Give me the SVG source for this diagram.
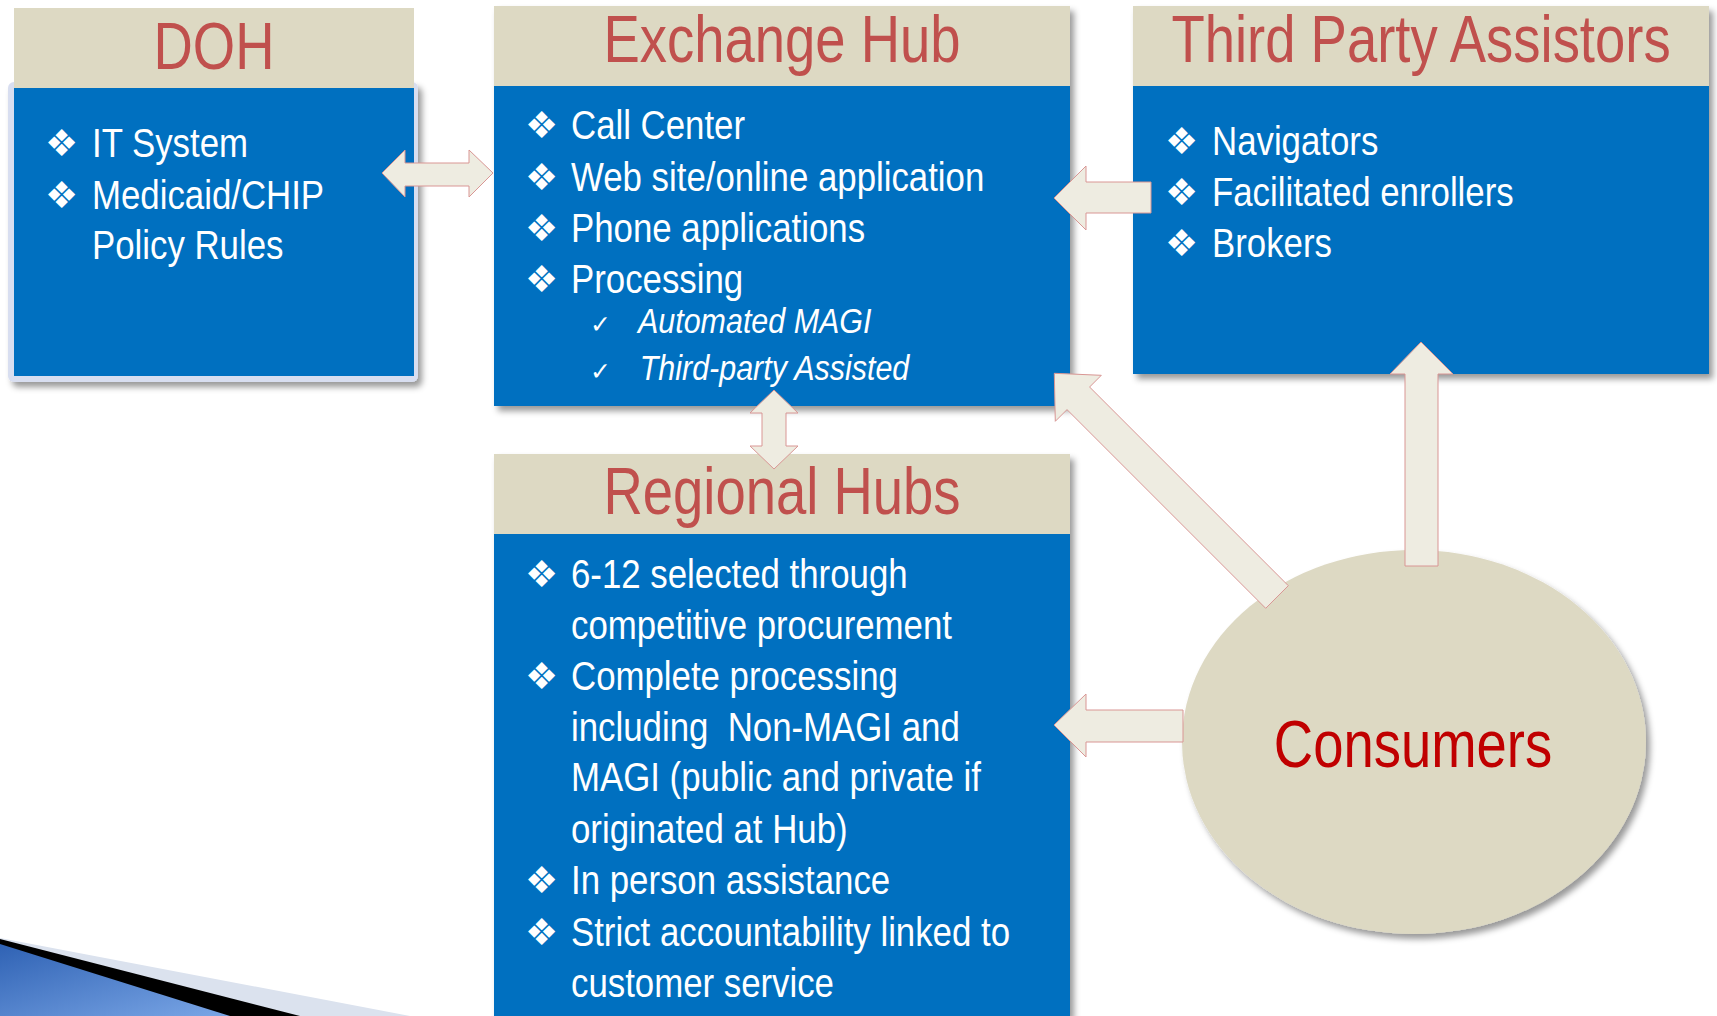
<svg xmlns="http://www.w3.org/2000/svg" width="1717" height="1016" viewBox="0 0 1717 1016">
<defs>
<filter id="sh" x="-10%" y="-10%" width="125%" height="125%">
<feDropShadow dx="4" dy="5" stdDeviation="3" flood-color="#000" flood-opacity="0.4"/>
</filter>
<linearGradient id="sw" x1="0" y1="0" x2="1" y2="1">
<stop offset="0" stop-color="#2f62b4"/>
<stop offset="1" stop-color="#7aa6e6"/>
</linearGradient>
<style>
.hdr{fill:#DDD9C3}
.body{fill:#0070C0}
.ttl{font-family:"Liberation Sans Narrow","Liberation Sans",Arial,sans-serif;font-size:66px;fill:#C0504D;text-anchor:middle}
.txt{font-family:"Liberation Sans Narrow","Liberation Sans",Arial,sans-serif;font-size:40px;fill:#fff}
.it{font-family:"Liberation Sans Narrow","Liberation Sans",Arial,sans-serif;font-size:35px;fill:#fff;font-style:italic}
.bul{font-family:"DejaVu Sans",sans-serif;font-size:37px;fill:#fff}
.chk{font-family:"DejaVu Sans",sans-serif;font-size:25px;fill:#fff}
.arr{fill:#EEECE1;stroke:#D99694;stroke-width:1}
.con{font-family:"Liberation Sans Narrow","Liberation Sans",Arial,sans-serif;font-size:66px;fill:#C00000;text-anchor:middle}
</style>
</defs>
<rect width="1717" height="1016" fill="#fff"/>

<g id="swoosh">
<polygon points="0,938 410,1016 0,1016" fill="#dbe2ee"/>
<polygon points="0,939 300,1016 0,1016" fill="#000"/>
<polygon points="0,944 230,1016 0,1016" fill="url(#sw)"/>
</g>

<g id="doh">
<rect x="8" y="82" width="410" height="300" rx="6" fill="#d8def0" filter="url(#sh)"/>
<rect class="hdr" x="14" y="8" width="400" height="80"/>
<rect class="body" x="14" y="88" width="400" height="288"/>
<text class="ttl" transform="translate(214 69) scale(0.825 1)">DOH</text>
<text class="bul" x="45" y="156">❖</text>
<text class="bul" x="45" y="208">❖</text>
<g transform="translate(92 0) scale(0.87 1)">
<text class="txt" x="0" y="157">IT System</text>
<text class="txt" x="0" y="209">Medicaid/CHIP</text>
<text class="txt" x="0" y="259">Policy Rules</text>
</g>
</g>

<g id="exchange-hub">
<g filter="url(#sh)">
<rect class="hdr" x="494" y="6" width="576" height="80"/>
<rect class="body" x="494" y="86" width="576" height="320"/>
</g>
<text class="ttl" transform="translate(782 62) scale(0.825 1)">Exchange Hub</text>
<text class="bul" x="525" y="138">❖</text>
<text class="bul" x="525" y="190">❖</text>
<text class="bul" x="525" y="241">❖</text>
<text class="bul" x="525" y="292">❖</text>
<text class="chk" x="590" y="333">✓</text>
<text class="chk" x="590" y="380">✓</text>
<g transform="translate(571 0) scale(0.87 1)">
<text class="txt" x="0" y="139">Call Center</text>
<text class="txt" x="0" y="191">Web site/online application</text>
<text class="txt" x="0" y="242">Phone applications</text>
<text class="txt" x="0" y="293">Processing</text>
<text class="it" x="77" y="333">Automated MAGI</text>
<text class="it" x="79" y="380">Third-party Assisted</text>
</g>
</g>

<g id="third-party-assistors">
<g filter="url(#sh)">
<rect class="hdr" x="1133" y="6" width="576" height="80"/>
<rect class="body" x="1133" y="86" width="576" height="288"/>
</g>
<text class="ttl" transform="translate(1421 62) scale(0.825 1)">Third Party Assistors</text>
<text class="bul" x="1165" y="154">❖</text>
<text class="bul" x="1165" y="205">❖</text>
<text class="bul" x="1165" y="256">❖</text>
<g transform="translate(1212 0) scale(0.87 1)">
<text class="txt" x="0" y="155">Navigators</text>
<text class="txt" x="0" y="206">Facilitated enrollers</text>
<text class="txt" x="0" y="257">Brokers</text>
</g>
</g>

<g id="regional-hubs">
<g filter="url(#sh)">
<rect class="hdr" x="494" y="454" width="576" height="80"/>
<rect class="body" x="494" y="534" width="576" height="482"/>
</g>
<text class="ttl" transform="translate(782 514) scale(0.825 1)">Regional Hubs</text>
<text class="bul" x="525" y="587">❖</text>
<text class="bul" x="525" y="689">❖</text>
<text class="bul" x="525" y="893">❖</text>
<text class="bul" x="525" y="945">❖</text>
<g transform="translate(571 0) scale(0.87 1)">
<text class="txt" x="0" y="588">6-12 selected through</text>
<text class="txt" x="0" y="639">competitive procurement</text>
<text class="txt" x="0" y="690">Complete processing</text>
<text class="txt" x="0" y="741" xml:space="preserve">including  Non-MAGI and</text>
<text class="txt" x="0" y="791">MAGI (public and private if</text>
<text class="txt" x="0" y="843">originated at Hub)</text>
<text class="txt" x="0" y="894">In person assistance</text>
<text class="txt" x="0" y="946">Strict accountability linked to</text>
<text class="txt" x="0" y="997">customer service</text>
</g>
</g>

<g id="consumers">
<ellipse cx="1414" cy="742" rx="232" ry="192" fill="#DDD9C3" filter="url(#sh)"/>
<text class="con" transform="translate(1413 767) scale(0.825 1)">Consumers</text>
</g>

<g id="connectors">
<polygon class="arr" points="382,173 405,150 405,163 469,163 469,150 493,173 469,197 469,186 405,186 405,197"/>
<polygon class="arr" points="1054,198 1086,166 1086,182 1151,182 1151,213 1086,213 1086,230"/>
<polygon class="arr" points="774,390 798,413 786,413 786,446 798,446 774,469 750,446 762,446 762,413 750,413"/>
<polygon class="arr" points="1288.3,585.7 1089.6,387 1101.3,375.3 1054.3,373.3 1055.3,421.3 1067,409.6 1265.7,608.3"/>
<polygon class="arr" points="1421,342 1453,374 1438,374 1438,566 1405,566 1405,374 1390,374"/>
<polygon class="arr" points="1054,725 1086,694 1086,710 1183,710 1183,742 1086,742 1086,757"/>
</g>
</svg>
